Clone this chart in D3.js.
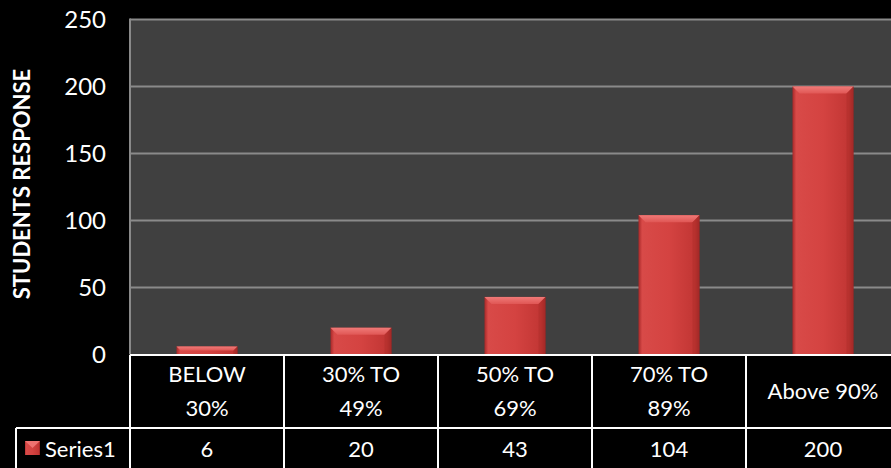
<!DOCTYPE html>
<html><head><meta charset="utf-8">
<script src="https://cdn.jsdelivr.net/npm/d3@7"></script>
<style>html,body{margin:0;padding:0;background:#000;overflow:hidden}svg{display:block}</style>
</head><body>
<svg id="c" width="891" height="468"></svg>
<script>
const categories = ["BELOW\n30%", "30% TO\n49%", "50% TO\n69%", "70% TO\n89%", "Above 90%"];
const values = [6, 20, 43, 104, 200];
const seriesName = "Series1";
const yTicks = [0, 50, 100, 150, 200, 250];
const yTitle = "STUDENTS RESPONSE";

const W = 891, H = 468;
const font = "Lato, 'Open Sans', sans-serif";
const svg = d3.select("#c");
svg.append("rect").attr("width", W).attr("height", H).attr("fill", "#000");

const pLeft = 130, pRight = 900, pTop = 19.5, pBottom = 354.5;
const x = d3.scaleBand().domain(categories).range([pLeft, pRight]).padding(0);
const y = d3.scaleLinear().domain([0, 250]).range([pBottom, pTop]);

const defs = svg.append("defs");
const gH = defs.append("linearGradient").attr("id", "gh").attr("x1", 0).attr("x2", 1).attr("y1", 0).attr("y2", 0);
[[0, "#a82828"], [0.06, "#d84a48"], [0.5, "#d44341"], [0.92, "#c23634"], [1, "#8e1f1f"]].forEach(s =>
  gH.append("stop").attr("offset", s[0]).attr("stop-color", s[1]));
const gTop = defs.append("linearGradient").attr("id", "gt").attr("x1", 0).attr("x2", 0).attr("y1", 0).attr("y2", 1);
[[0, "#f07a78"], [1, "#e05755"]].forEach(s => gTop.append("stop").attr("offset", s[0]).attr("stop-color", s[1]));

// plot area
svg.append("rect").attr("x", pLeft).attr("y", pTop).attr("width", pRight - pLeft).attr("height", pBottom - pTop).attr("fill", "#404040");

// gridlines
svg.append("g").selectAll("line").data(yTicks.filter(d => d > 0)).join("line")
  .attr("x1", pLeft).attr("x2", W).attr("y1", d => y(d)).attr("y2", d => y(d))
  .attr("stroke", "#8a8a8a").attr("stroke-width", 2);
svg.append("line").attr("x1", pLeft).attr("x2", pLeft).attr("y1", pTop - 1).attr("y2", pBottom)
  .attr("stroke", "#8a8a8a").attr("stroke-width", 2);

// y axis
const yAxis = svg.append("g").attr("transform", `translate(${pLeft - 24},0)`)
  .call(d3.axisLeft(y).tickValues(yTicks).tickSize(0).tickPadding(0));
yAxis.select(".domain").remove();
yAxis.selectAll("text").attr("fill", "#fff").style("font-family", font).style("font-size", "24px");

// y title
svg.append("text").attr("transform", `translate(30,${(pTop + pBottom) / 2 - 3}) rotate(-90)`)
  .attr("text-anchor", "middle").attr("fill", "#fff").style("font-family", font)
  .style("font-size", "22px").style("font-weight", "bold").text(yTitle);

// bars
const bw = 61, bev = 7;
const bars = svg.append("g").selectAll("g").data(values).join("g");
bars.append("rect")
  .attr("x", (d, i) => x(categories[i]) + x.bandwidth() / 2 - bw / 2)
  .attr("y", d => y(d)).attr("width", bw).attr("height", d => y(0) - y(d))
  .attr("fill", "url(#gh)");
bars.append("path")
  .attr("d", (d, i) => {
    const x0 = x(categories[i]) + x.bandwidth() / 2 - bw / 2, y0 = y(d);
    const b = Math.min(bev, (y(0) - y(d)) / 2);
    return `M${x0},${y0}H${x0 + bw}L${x0 + bw - b},${y0 + b}H${x0 + b}Z`;
  }).attr("fill", "url(#gt)");
bars.append("path")
  .attr("d", (d, i) => {
    const x0 = x(categories[i]) + x.bandwidth() / 2 - bw / 2, y0 = y(d);
    const b = Math.min(bev, (y(0) - y(d)) / 2);
    return `M${x0 + bw},${y0}L${x0 + bw - b},${y0 + b}V${y(0)}H${x0 + bw}Z`;
  }).attr("fill", "#b02e2c").attr("opacity", 0.6);

// data table
const rowY1 = 355, rowY2 = 428;
const tbl = svg.append("g").attr("stroke", "#fff").attr("stroke-width", 2);
tbl.append("line").attr("x1", pLeft).attr("x2", W).attr("y1", rowY1).attr("y2", rowY1);
tbl.append("line").attr("x1", 16).attr("x2", W).attr("y1", rowY2).attr("y2", rowY2);
tbl.append("line").attr("x1", 16).attr("x2", 16).attr("y1", rowY2).attr("y2", H);
tbl.selectAll(".v").data(categories).join("line").attr("class", "v")
  .attr("x1", d => x(d)).attr("x2", d => x(d)).attr("y1", rowY1).attr("y2", H);

// category labels
const catG = svg.append("g").style("font-family", font).style("font-size", "22px").attr("fill", "#fff").attr("text-anchor", "middle");
categories.forEach(c => {
  const lines = c.split("\n");
  const cx = x(c) + x.bandwidth() / 2;
  const t = catG.append("text");
  if (lines.length === 1) {
    t.attr("x", cx).attr("y", 399).text(lines[0]);
  } else {
    lines.forEach((l, j) => t.append("tspan").attr("x", cx).attr("y", 382 + j * 34).text(l));
  }
});

// values row
svg.append("g").selectAll("text").data(values).join("text")
  .attr("x", (d, i) => x(categories[i]) + x.bandwidth() / 2).attr("y", 457)
  .attr("text-anchor", "middle").attr("fill", "#fff").style("font-family", font).style("font-size", "22px")
  .text(d => d);

// legend key
svg.append("rect").attr("x", 25).attr("y", 441).attr("width", 15).attr("height", 14).attr("fill", "url(#gh)");
svg.append("path").attr("d", "M25,441H40L32.5,448Z").attr("fill", "#ee7270");
svg.append("text").attr("x", 45).attr("y", 457).attr("fill", "#fff").style("font-family", font).style("font-size", "22px").text(seriesName);
</script>
</body></html>
